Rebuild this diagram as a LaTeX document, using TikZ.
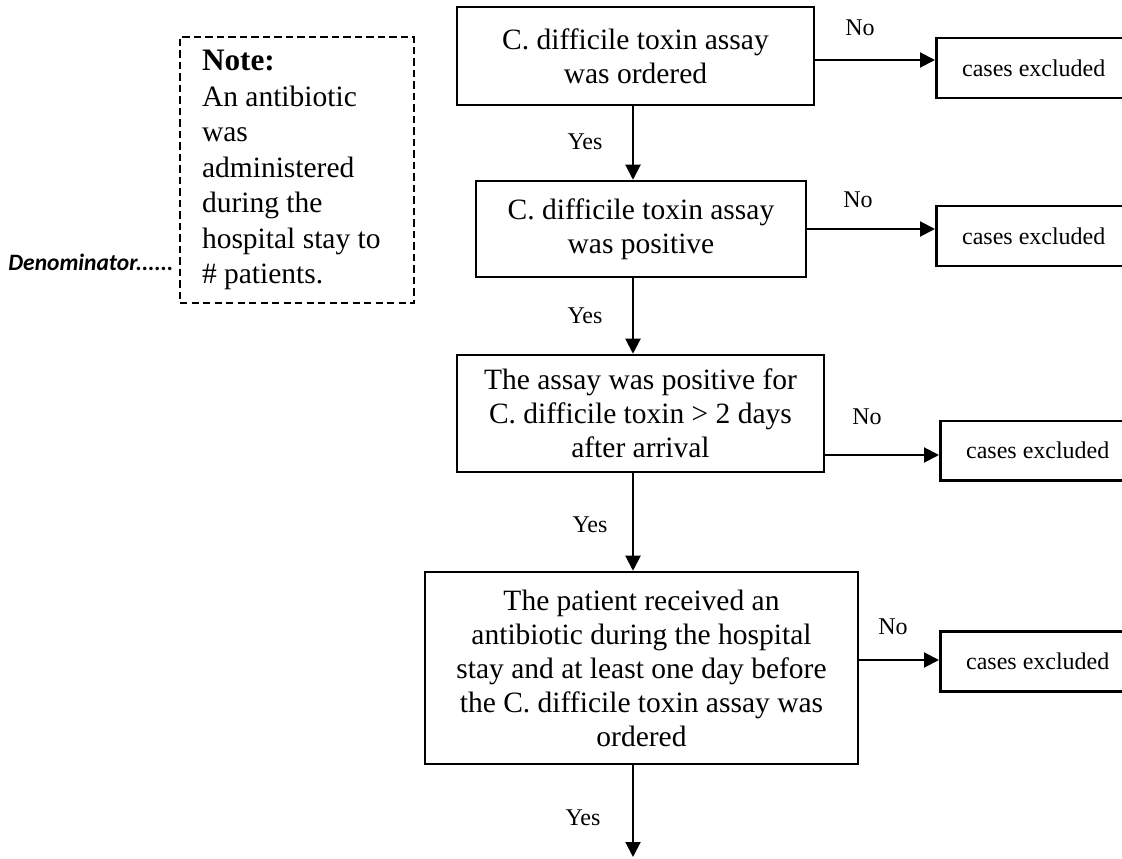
\documentclass[tikz,border=0pt]{standalone}
\usepackage{fontspec}
\setmainfont{Liberation Serif}
\newfontfamily\labelsans{Carlito}
\usetikzlibrary{arrows.meta}
\begin{document}
\begin{tikzpicture}[x=0.4pt,y=-0.4pt,
  stepbox/.style={draw, line width=1pt, align=center, inner sep=0pt,
    font=\fontsize{11.8}{13.6}\selectfont},
  exbox/.style={draw, line width=1pt, anchor=north west, minimum width=78pt,
    minimum height=24pt, inner sep=0pt, font=\fontsize{9.6}{11}\selectfont},
  flow/.style={line width=0.8pt, -{Triangle[length=6pt,width=6pt]}},
  tag/.style={font=\fontsize{9.6}{11}\selectfont, inner sep=0pt},
  notebox/.style={draw, dash pattern=on 2.9pt off 1.7pt, line width=0.8pt,
    anchor=north west, minimum width=93.6pt, minimum height=106.4pt,
    text width=76pt, align=flush left, inner sep=0pt,
    font=\fontsize{11.8}{14.2}\selectfont}]
\useasboundingbox (0,0) rectangle (1122,859);

% decision steps
\node[stepbox, minimum width=142.8pt, minimum height=39.2pt] (b1) at (635.5,56)
  {C. difficile toxin assay\\was ordered};
\node[stepbox, minimum width=132pt, minimum height=38.4pt] (b2) at (641,229)
  {C. difficile toxin assay\\was positive};
\node[stepbox, minimum width=146.8pt, minimum height=46.8pt] (b3) at (640.5,413.5)
  {The assay was positive for\\C. difficile toxin > 2 days\\after arrival};
\node[stepbox, minimum width=173.2pt, minimum height=76.8pt] (b4) at (641.5,668)
  {The patient received an\\antibiotic during the hospital\\stay and at least one day before\\the C. difficile toxin assay was\\ordered};

% exclusion boxes
\node[exbox] (x1) at (935,37) {cases excluded};
\node[exbox] (x2) at (935,205) {cases excluded};
\node[exbox, minimum height=23.6pt] (x3) at (939,420) {cases excluded};
\node[exbox] (x4) at (939,630) {cases excluded};

% note with denominator
\node[notebox] (note) at (179,36)
  {{\fontsize{12.5}{14.2}\selectfont\bfseries Note:}\\An antibiotic\\was\\administered\\during the\\hospital stay to\\\# patients.};
\coordinate (denrow) at (0,262);
\node[anchor=east, inner sep=0pt,
  font=\labelsans\fontsize{9.4}{11}\selectfont\bfseries\itshape] (den)
  at ([xshift=-2pt]note.west |- denrow) {Denominator......};

% main spine of "Yes" arrows
\coordinate (spine) at (633,0);
\coordinate (tail) at (633,857);
\draw[flow] (b1.south -| spine) -- (b2.north -| spine);
\draw[flow] (b2.south -| spine) -- (b3.north -| spine);
\draw[flow] (b3.south -| spine) -- (b4.north -| spine);
\draw[flow] (b4.south -| spine) -- (tail);

% "No" arrows
\coordinate (r1) at (0,60);
\coordinate (r2) at (0,229);
\coordinate (r3) at (0,455);
\coordinate (r4) at (0,660);
\draw[flow] (b1.east |- r1) -- (x1.west |- r1);
\draw[flow] (b2.east |- r2) -- (x2.west |- r2);
\draw[flow] (b3.east |- r3) -- (x3.west |- r3);
\draw[flow] (b4.east |- r4) -- (x4.west |- r4);

% branch labels
\node[tag] (no1) at (860,28) {No};
\node[tag] (no2) at (858,200) {No};
\node[tag] (no3) at (867,417) {No};
\node[tag] (no4) at (893,627) {No};
\node[tag] (yes1) at (585,142) {Yes};
\node[tag] (yes2) at (585,316) {Yes};
\node[tag] (yes3) at (590,525) {Yes};
\node[tag] (yes4) at (583,818) {Yes};
\end{tikzpicture}
\end{document}
